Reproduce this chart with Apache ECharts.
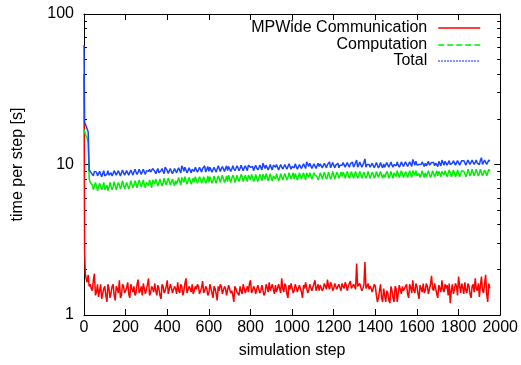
<!DOCTYPE html>
<html>
<head>
<meta charset="utf-8">
<script src="https://cdn.jsdelivr.net/npm/echarts@6/dist/echarts.min.js"></script>
<style>
html,body{margin:0;padding:0;background:#fff;}
#chart{width:521px;height:365px;}
</style>
</head>
<body>
<div id="chart"></div>
<script>
// sampled simulation steps: early samples 0..35, "A" samples every 10 steps 40..1950,
// "B" samples every 10 steps 45..1945
var earlySteps = [0, 3, 6, 10, 15, 20, 25, 30, 35];
var stepsA = [];
for (var s = 40; s <= 1950; s += 10) stepsA.push(s);
var stepsB = [];
for (var s2 = 45; s2 <= 1945; s2 += 10) stepsB.push(s2);

var xTicks = [0, 200, 400, 600, 800, 1000, 1200, 1400, 1600, 1800, 2000];
var yTicks = [1, 10, 100];
var yMinorTicks = [2,3,4,5,6,7,8,9,20,30,40,50,60,70,80,90];

var seriesNames = ['MPWide Communication', 'Computation', 'Total'];

// MPWide Communication
var commEarly = [40,2.6,1.9,1.75,1.65,1.85,1.55,1.6,1.5];
var commA = [
  1.45,1.88,1.42,1.32,1.6,1.25,1.55,1.22,1.5,1.4,
  1.6,1.25,1.5,1.7,1.35,1.55,1.45,1.65,1.3,1.5,
  1.55,1.4,1.72,1.45,1.35,1.58,1.48,1.75,1.4,1.5,
  1.62,1.35,1.5,1.28,1.55,1.45,1.7,1.42,1.52,1.38,
  1.5,1.65,1.4,1.55,1.45,1.75,1.38,1.5,1.6,1.42,
  1.48,1.55,1.35,1.68,1.45,1.5,1.4,1.58,1.3,1.5,
  1.25,1.45,1.55,1.4,1.5,1.35,1.6,1.45,1.22,1.5,
  1.45,1.55,1.38,1.62,1.48,1.42,1.7,1.45,1.5,1.35,
  1.55,1.45,1.6,1.4,1.52,1.65,1.42,1.48,1.58,1.38,
  1.5,1.75,1.42,1.55,1.3,1.48,1.6,1.45,1.52,1.4,
  1.55,1.3,1.5,1.62,1.45,1.58,1.48,1.7,1.52,1.45,
  1.6,1.5,1.55,1.72,1.48,1.58,1.5,1.65,1.55,1.52,
  1.62,1.5,1.58,1.55,1.68,1.5,1.55,2.2,1.52,1.58,
  1.5,2.25,1.55,1.48,1.5,1.4,1.55,1.22,1.45,1.3,
  1.5,1.22,1.4,1.2,1.45,1.22,1.5,1.25,1.48,1.55,
  1.45,1.6,1.3,1.52,1.7,1.4,1.55,1.28,1.5,1.62,
  1.45,1.55,1.35,1.82,1.45,1.6,1.3,1.55,1.7,1.42,
  1.5,1.35,1.2,1.6,1.48,1.55,1.8,1.4,1.52,1.65,
  1.4,1.55,1.3,1.6,1.75,1.45,1.32,1.8,1.4,1.85,
  1.22,1.5
];
var commB = [
  1.7,1.35,1.6,1.45,1.28,1.5,1.35,1.6,1.3,1.55,
  1.35,1.55,1.4,1.3,1.6,1.4,1.52,1.38,1.6,1.42,
  1.35,1.6,1.4,1.55,1.62,1.38,1.6,1.35,1.55,1.42,
  1.45,1.58,1.35,1.6,1.4,1.55,1.38,1.6,1.4,1.55,
  1.38,1.45,1.6,1.35,1.62,1.4,1.55,1.42,1.38,1.55,
  1.6,1.38,1.52,1.4,1.55,1.35,1.6,1.4,1.55,1.38,
  1.55,1.6,1.38,1.55,1.35,1.58,1.4,1.35,1.55,1.42,
  1.35,1.45,1.6,1.4,1.55,1.62,1.4,1.55,1.38,1.58,
  1.4,1.58,1.35,1.6,1.42,1.45,1.6,1.38,1.42,1.6,
  1.4,1.5,1.62,1.38,1.58,1.62,1.4,1.6,1.42,1.58,
  1.42,1.58,1.65,1.4,1.6,1.45,1.62,1.45,1.6,1.58,
  1.45,1.62,1.48,1.55,1.65,1.45,1.62,1.48,1.6,1.45,
  1.55,1.65,1.45,1.62,1.5,1.6,1.48,1.55,1.62,1.45,
  1.58,1.5,1.62,1.55,1.42,1.6,1.35,1.3,1.6,1.22,
  1.35,1.45,1.25,1.55,1.3,1.55,1.22,1.58,1.38,1.45,
  1.55,1.38,1.6,1.4,1.45,1.62,1.38,1.58,1.42,1.4,
  1.62,1.38,1.6,1.5,1.62,1.38,1.58,1.42,1.48,1.6,
  1.58,1.62,1.45,1.38,1.62,1.35,1.55,1.62,1.38,1.45,
  1.62,1.38,1.55,1.42,1.5,1.62,1.58,1.45,1.62,1.38,
  1.62
];

// Computation
var compEarly = [17,16.5,16,15.5,15,14,8.0,7.6,7.4];
var compA = [
  7.3,7.0,7.5,6.9,7.2,7.1,6.8,7.3,7.0,7.4,
  7.1,7.5,7.0,7.3,7.2,7.6,7.1,7.4,7.2,7.7,
  7.3,7.5,7.2,7.8,7.4,7.3,7.6,7.2,7.5,7.9,
  7.4,7.6,7.3,7.8,7.5,8.1,7.4,7.7,7.5,7.6,
  7.8,7.5,7.7,8.2,7.6,7.8,7.5,7.9,7.7,7.6,
  7.9,7.6,8.0,7.7,8.3,7.8,7.6,8.0,7.8,7.9,
  7.7,8.1,7.8,8.4,7.9,7.7,8.0,7.8,8.2,7.9,
  8.0,7.8,8.3,7.9,8.1,8.5,7.9,8.2,8.0,8.1,
  7.9,8.2,8.6,8.0,8.3,7.9,8.1,8.4,8.0,8.2,
  8.1,8.5,8.0,8.3,8.2,8.7,8.1,8.0,8.3,8.2,
  8.4,8.1,8.3,8.8,8.2,8.4,8.1,8.5,8.3,8.2,
  8.5,8.2,8.4,8.3,8.9,8.3,8.5,8.2,8.6,8.4,
  8.3,8.6,8.2,8.5,8.4,8.9,8.3,8.5,8.4,8.6,
  8.3,8.7,8.4,8.5,8.2,8.6,8.4,9.0,8.3,8.5,
  8.6,8.3,8.7,8.4,8.5,8.8,8.3,8.6,8.4,8.7,
  8.5,8.8,8.4,8.6,9.1,8.5,8.4,8.7,8.5,8.6,
  8.8,8.4,8.6,8.5,8.9,8.6,8.4,8.7,9.0,8.5,
  8.7,8.5,8.8,8.6,9.2,8.6,8.7,8.5,8.9,8.7,
  8.6,8.9,8.7,9.1,8.6,8.8,8.7,9.3,8.7,8.9,
  8.8,9.0
];
var compB = [
  6.8,7.6,6.7,7.5,6.8,7.6,6.9,6.7,7.6,6.8,
  7.7,6.8,7.6,6.9,7.8,6.9,7.6,6.9,7.8,7.0,
  7.8,7.0,7.9,7.1,7.9,7.0,7.8,7.9,7.0,7.8,
  8.0,7.2,8.0,7.2,8.1,7.3,8.1,7.3,8.0,7.2,
  7.4,8.2,7.3,8.1,8.3,7.4,8.2,7.4,8.1,8.3,
  7.5,8.3,7.5,8.3,7.5,8.4,8.3,7.5,8.4,7.5,
  8.4,7.6,8.5,7.6,8.4,8.5,7.6,8.5,7.6,8.5,
  7.7,8.6,7.7,8.5,7.7,8.4,8.6,7.7,8.6,7.7,
  8.6,7.8,8.5,8.7,7.8,8.7,7.8,8.5,8.7,7.8,
  8.7,7.9,8.7,7.9,8.8,8.0,8.8,8.7,7.9,8.8,
  8.0,8.8,7.9,8.7,8.8,8.0,8.8,8.7,7.9,8.8,
  8.0,8.9,8.0,8.9,8.0,9.0,8.0,8.9,8.1,8.9,
  8.9,8.1,9.0,8.1,9.0,8.1,9.0,8.1,9.0,8.1,
  8.9,8.1,9.0,8.1,8.9,8.1,9.0,8.2,9.0,8.1,
  8.2,9.0,8.1,9.0,8.1,8.9,9.1,8.2,9.1,8.2,
  9.0,8.2,9.1,8.2,9.0,9.1,8.2,8.2,9.1,8.2,
  8.3,9.1,8.2,9.1,8.3,9.1,9.0,8.3,9.1,9.1,
  8.3,9.2,8.3,9.2,8.3,9.2,8.3,9.1,9.0,8.3,
  9.3,8.4,9.3,8.4,9.3,8.4,9.3,8.4,9.2,8.4,
  9.3
];

// Total
var totalEarly = [62,19,18.5,18,17.5,16.5,9.2,9.0,8.8];
var totalA = [
  8.7,9.0,8.9,8.3,8.8,8.4,8.4,8.6,8.5,8.8,
  8.7,8.8,8.5,9.0,8.6,9.2,8.6,9.0,8.5,9.2,
  8.9,8.9,8.9,9.3,8.8,8.9,9.1,9.0,8.9,9.4,
  9.0,8.9,8.8,9.1,9.0,9.6,9.1,9.1,9.0,9.0,
  9.3,9.2,9.1,9.8,9.0,9.6,8.9,9.4,9.3,9.0,
  9.4,9.2,9.4,9.4,9.8,9.3,9.0,9.6,9.1,9.4,
  9.0,9.6,9.4,9.8,9.4,9.1,9.6,9.3,9.4,9.4,
  9.5,9.4,9.7,9.5,9.6,9.9,9.6,9.7,9.5,9.5,
  9.5,9.7,10.2,9.4,9.8,9.6,9.5,9.9,9.6,9.6,
  9.6,10.2,9.4,9.9,9.5,10.2,9.7,9.5,9.8,9.6,
  9.9,9.4,9.8,10.4,9.7,10.0,9.6,10.2,9.8,9.7,
  10.1,9.7,10.0,10.0,10.4,9.9,10.0,9.9,10.2,9.9,
  9.9,10.1,9.8,10.1,10.1,10.4,9.9,10.7,9.9,10.2,
  9.8,10.9,10.0,10.0,9.7,10.0,9.9,10.2,9.8,9.8,
  10.1,9.5,10.1,9.6,9.9,10.0,9.8,9.9,9.9,10.2,
  9.9,10.4,9.7,10.1,10.8,9.9,9.9,10.0,10.0,10.2,
  10.2,9.9,9.9,10.3,10.3,10.2,9.7,10.2,10.7,9.9,
  10.2,9.8,10.0,10.2,10.7,10.1,10.5,9.9,10.4,10.3,
  10.0,10.4,10.0,10.7,10.3,10.2,10.0,11.1,10.1,10.7,
  10.0,10.5
];
var totalB = [
  8.4,9.1,8.4,9.0,8.3,9.1,8.4,9.1,8.4,8.4,
  9.1,8.5,9.1,8.4,9.2,8.5,9.1,8.5,9.2,8.5,
  9.3,8.6,9.3,8.6,9.3,8.6,9.3,9.3,8.7,9.3,
  8.7,9.4,8.7,9.4,8.7,9.4,8.7,9.4,8.7,9.4,
  8.8,9.5,8.8,9.5,9.6,8.8,9.5,8.8,9.5,9.6,
  8.9,9.6,8.9,9.6,8.9,9.7,9.6,8.9,9.6,8.9,
  9.8,9.0,9.7,9.0,9.8,9.7,9.0,9.8,9.1,9.8,
  9.1,9.9,9.1,9.8,9.1,9.9,9.8,9.1,9.9,9.2,
  9.9,9.2,10.0,9.9,9.2,10.0,9.2,9.9,10.0,9.2,
  10.0,9.3,10.0,9.3,10.1,9.3,10.0,10.1,9.3,10.0,
  9.4,10.1,9.4,10.1,10.2,9.4,10.1,9.4,10.2,10.1,
  9.5,10.2,9.5,10.2,9.5,10.3,9.5,10.2,9.5,10.2,
  10.3,9.6,10.3,9.6,10.3,9.6,10.3,9.6,10.4,9.6,
  10.3,9.6,10.3,9.6,10.2,9.5,10.3,9.5,10.3,9.5,
  9.6,10.3,9.6,10.4,9.6,10.3,10.4,9.6,10.4,9.7,
  10.4,9.7,10.4,9.7,10.4,10.5,9.7,9.7,10.4,9.7,
  9.8,10.5,9.8,10.5,9.8,10.5,10.5,9.8,10.6,10.5,
  9.9,10.6,9.9,10.6,9.9,10.6,9.9,10.6,10.6,9.9,
  10.7,10.0,10.7,10.0,10.7,10.0,10.7,10.0,10.7,10.0,
  10.7
];

function mergeSeries(early, a, b) {
  var out = [];
  for (var i = 0; i < early.length; i++) out.push([earlySteps[i], early[i]]);
  for (var j = 0; j < a.length; j++) out.push([stepsA[j], a[j]]);
  for (var k = 0; k < b.length; k++) out.push([stepsB[k], b[k]]);
  out.sort(function (p, q) { return p[0] - q[0]; });
  return out;
}

var FONT = '"Liberation Sans", Arial, Helvetica, sans-serif';
var FS = 16;
var chart = echarts.init(document.getElementById('chart'), null, {renderer: 'canvas'});

function xAxisDef(pos, labels) {
  return {
    type: 'value', position: pos, min: 0, max: 2000, interval: 200,
    axisLine: {show: true, onZero: false, lineStyle: {color: '#000', width: 1}},
    axisTick: {show: true, inside: true, length: 6, lineStyle: {color: '#000'}},
    axisLabel: {show: labels, color: '#000', fontFamily: FONT, fontSize: FS, margin: 5,
                formatter: function (v) { return String(v); }},
    splitLine: {show: false},
    name: labels ? 'simulation step' : '',
    nameLocation: 'middle', nameGap: 28,
    nameTextStyle: {color: '#000', fontFamily: FONT, fontSize: FS}
  };
}
function yAxisDef(pos, labels, minor) {
  var def = {
    type: 'log', logBase: 10, position: pos, min: 1, max: 100,
    axisLine: {show: !minor, onZero: false, lineStyle: {color: '#000', width: 1}},
    axisTick: {show: true, inside: true, length: minor ? 3 : 6, lineStyle: {color: '#000'}},
    axisLabel: {show: labels, color: '#000', fontFamily: FONT, fontSize: FS, margin: 10,
                formatter: function (v) { return String(v); }},
    splitLine: {show: false},
    name: labels ? 'time per step [s]' : '',
    nameLocation: 'middle', nameGap: 58, nameRotate: 90,
    nameTextStyle: {color: '#000', fontFamily: FONT, fontSize: FS}
  };
  if (minor) {
    def.axisTick.customValues = yMinorTicks;
    def.axisLabel.show = false;
  } else {
    def.axisTick.customValues = yTicks;
    def.axisLabel.customValues = yTicks;
  }
  return def;
}

function legendDef(name, top) {
  return {
    data: [name], orient: 'vertical', right: 35, top: top,
    align: 'right', itemWidth: 42, itemHeight: 14, padding: 5,
    selectedMode: false,
    itemStyle: {opacity: 0},
    textStyle: {color: '#000', fontFamily: FONT, fontSize: FS, padding: [0, 6, 0, 0]}
  };
}

var colors = ['#ff0000', '#00ee00', '#1a44ff'];
var lineTypes = ['solid', 'dashed', 'dotted'];
var dataSets = [
  mergeSeries(commEarly, commA, commB),
  mergeSeries(compEarly, compA, compB),
  mergeSeries(totalEarly, totalA, totalB)
];

var series = [];
for (var k = 0; k < 3; k++) {
  series.push({
    name: seriesNames[k], type: 'line', xAxisIndex: 0, yAxisIndex: 0,
    data: dataSets[k], symbol: 'none', showSymbol: false,
    lineStyle: {color: colors[k], width: 1.5, type: 'solid'},
    itemStyle: {color: colors[k]},
    z: 2 + k, animation: false
  });
}

var legends = [];
for (var j = 0; j < 3; j++) {
  var lg = legendDef(seriesNames[j], [15, 32, 48][j]);
  lg.lineStyle = {type: lineTypes[j], width: 1.5, color: colors[j]};
  legends.push(lg);
}

chart.setOption({
  animation: false,
  backgroundColor: '#fff',
  grid: {left: 84, right: 20, top: 14, bottom: 50, containLabel: false},
  xAxis: [xAxisDef('bottom', true), xAxisDef('top', false)],
  yAxis: [yAxisDef('left', true, false), yAxisDef('right', false, false),
          yAxisDef('left', false, true), yAxisDef('right', false, true)],
  legend: legends,
  series: series
});
</script>
</body>
</html>
